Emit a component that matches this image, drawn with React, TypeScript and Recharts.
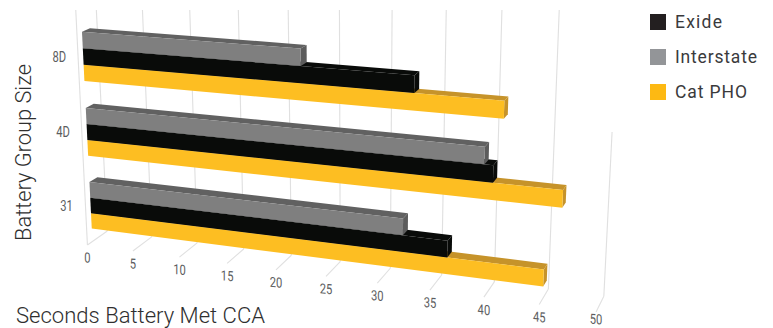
import { BarChart, Bar, XAxis, YAxis, CartesianGrid } from 'recharts';

const groupSizes = ['31', '4D', '8D'];
const catPho = [45.1, 46.5, 41.1];
const exide = [36.3, 40.3, 33];
const interstate = [32.1, 39.5, 22.3];
const secondTicks = [0, 5, 10, 15, 20, 25, 30, 35, 40, 45, 50];

const legendNames = ['Exide', 'Interstate', 'Cat PHO'];
const legendColors = ['#231f20', '#939598', '#fdb913'];
const legendWidths = [47, 82, 72];

const rows = groupSizes.map((size, i) => ({
  size,
  catPho: catPho[i],
  exide: exide[i],
  interstate: interstate[i],
}));

const WIDTH = 773;
const HEIGHT = 328;

// flat plot rectangle that recharts lays out, the y axis runs floor to ceiling
const FLAT = { left: 100, top: 20, width: 600, height: 280 };

// camera: where the flat rectangle's corners land on screen
const QUAD = [
  [92.4, 241.5],
  [598, 308],
  [610.6, 56.9],
  [81.3, 18],
];
const VANISH = [922, -340];
const DEPTH_FRONT = -0.006;
const DEPTH_BAR = 0.0095;
const DEPTH_WALL = 0.018;
const CLIP_TOP = 10;
const LAST_LINE_TOP = 132;

function squareToQuad(q: number[][]) {
  const [[x0, y0], [x1, y1], [x2, y2], [x3, y3]] = q;
  const dx1 = x1 - x2;
  const dx2 = x3 - x2;
  const sx = x0 - x1 + x2 - x3;
  const dy1 = y1 - y2;
  const dy2 = y3 - y2;
  const sy = y0 - y1 + y2 - y3;
  const den = dx1 * dy2 - dx2 * dy1;
  const g = (sx * dy2 - dx2 * sy) / den;
  const h = (dx1 * sy - sx * dy1) / den;
  return {
    a: x1 - x0 + g * x1,
    b: x3 - x0 + h * x3,
    c: x0,
    d: y1 - y0 + g * y1,
    e: y3 - y0 + h * y3,
    f: y0,
    g,
    h,
  };
}

const M = squareToQuad(QUAD);

// flat chart coordinates to screen, depth pulls the point toward the vanishing point
function project(fx: number, fy: number, depth = 0) {
  const u = (fx - FLAT.left) / FLAT.width;
  const v = (fy - FLAT.top) / FLAT.height;
  const w = M.g * u + M.h * v + 1;
  const px = (M.a * u + M.b * v + M.c) / w;
  const py = (M.d * u + M.e * v + M.f) / w;
  return [px + depth * (VANISH[0] - px), py + depth * (VANISH[1] - py)];
}

const pts = (list: number[][]) => list.map((p) => p.join(',')).join(' ');

function prismShape(front: string, top: string, side: string) {
  return (props: any) => {
    const { x, y, width, height } = props;
    const corners = [
      [x, y + height],
      [x + width, y + height],
      [x + width, y],
      [x, y],
    ];
    const [a, b, c, d] = corners.map(([fx, fy]) => project(fx, fy));
    const [a2, b2, c2] = corners.map(([fx, fy]) => project(fx, fy, DEPTH_BAR));
    return (
      <g>
        <polygon points={pts([a, b, b2, a2])} fill={top} />
        <polygon points={pts([b, c, c2, b2])} fill={side} />
        <polygon points={pts([a, b, c, d])} fill={front} />
      </g>
    );
  };
}

function gridLine(props: any) {
  const fx = props.x1;
  const floorFront = project(fx, FLAT.top, DEPTH_FRONT);
  const floorBack = project(fx, FLAT.top, DEPTH_WALL);
  const ceil = project(fx, FLAT.top + FLAT.height, DEPTH_WALL);
  // the 50 line only reaches part way up the wall
  const wallTop = Math.abs(fx - FLAT.left - FLAT.width) < 0.5 ? LAST_LINE_TOP : CLIP_TOP;
  const t = (wallTop - floorBack[1]) / (ceil[1] - floorBack[1]);
  const wallX = floorBack[0] + t * (ceil[0] - floorBack[0]);
  let edge = null;
  if (Math.abs(fx - FLAT.left) < 0.5) {
    const edgeTop = project(fx, FLAT.top + FLAT.height, DEPTH_FRONT);
    const k = (CLIP_TOP - floorFront[1]) / (edgeTop[1] - floorFront[1]);
    edge = (
      <line
        x1={floorFront[0]}
        y1={floorFront[1]}
        x2={floorFront[0] + k * (edgeTop[0] - floorFront[0])}
        y2={CLIP_TOP}
      />
    );
  }
  return (
    <g key={props.key ?? fx} stroke="#e0e0e0" strokeWidth={1.1}>
      {edge}
      <line x1={floorFront[0]} y1={floorFront[1]} x2={floorBack[0]} y2={floorBack[1]} />
      <line x1={floorBack[0]} y1={floorBack[1]} x2={wallX} y2={wallTop} />
    </g>
  );
}

function SecondsTick(props: any) {
  const [px, py] = project(props.x, FLAT.top, DEPTH_FRONT);
  return (
    <text
      transform={`translate(${px} ${Math.min(py + 17.5, 324)}) skewY(5) scale(0.8 1)`}
      textAnchor="middle"
      fontFamily="Roboto, sans-serif"
      fontSize={14}
      fill="#5c5d60"
    >
      {props.payload.value}
    </text>
  );
}

function SizeTick(props: any) {
  const [px, py] = project(FLAT.left, props.y);
  return (
    <text
      transform={`translate(${px - 24} ${py + 5}) scale(0.8 1)`}
      textAnchor="middle"
      fontFamily="Roboto, sans-serif"
      fontSize={14}
      fill="#5c5d60"
    >
      {props.payload.value}
    </text>
  );
}

export default function App() {
  return (
    <div style={{ position: 'absolute', left: 0, top: 0, width: WIDTH, height: HEIGHT, background: '#fff' }}>
      <BarChart
        width={WIDTH}
        height={HEIGHT}
        data={rows}
        layout="vertical"
        margin={{ top: 20, right: 73, bottom: 8, left: 60 }}
        barCategoryGap="18%"
        barGap={0}
      >
        <CartesianGrid horizontal={false} vertical={gridLine} />
        <XAxis
          type="number"
          domain={[0, 50]}
          ticks={secondTicks}
          interval={0}
          height={20}
          axisLine={false}
          tickLine={false}
          tick={SecondsTick}
        />
        <YAxis
          type="category"
          dataKey="size"
          width={40}
          axisLine={false}
          tickLine={false}
          tick={SizeTick}
        />
        <Bar dataKey="catPho" isAnimationActive={false} shape={prismShape('#fdbe22', '#c6932a', '#c6932a')} />
        <Bar dataKey="exide" isAnimationActive={false} shape={prismShape('#090b09', '#090b09', '#090b09')} />
        <Bar dataKey="interstate" isAnimationActive={false} shape={prismShape('#7f7f7f', '#616161', '#5c5c5c')} />
      </BarChart>
      <svg
        width={WIDTH}
        height={HEIGHT}
        style={{ position: 'absolute', left: 0, top: 0, pointerEvents: 'none' }}
        fontFamily="Roboto, sans-serif"
      >
        <text x={16} y={323} fontSize={22.5} fontWeight={300} fill="#2f2f2f" textLength={249} lengthAdjust="spacingAndGlyphs">
          Seconds Battery Met CCA
        </text>
        <text
          transform="translate(31 241) rotate(-90)"
          fontSize={22.5}
          fontWeight={300}
          fill="#2f2f2f"
          textLength={177}
          lengthAdjust="spacingAndGlyphs"
        >
          Battery Group Size
        </text>
        {legendNames.map((name, i) => (
          <g key={name}>
            <rect x={650} y={14 + i * 35} width={16} height={16} fill={legendColors[i]} />
            <text
              x={675}
              y={27.5 + i * 35}
              fontSize={17.5}
              fill="#3a3a3c"
              textLength={legendWidths[i]}
              lengthAdjust="spacing"
            >
              {name}
            </text>
          </g>
        ))}
      </svg>
    </div>
  );
}
